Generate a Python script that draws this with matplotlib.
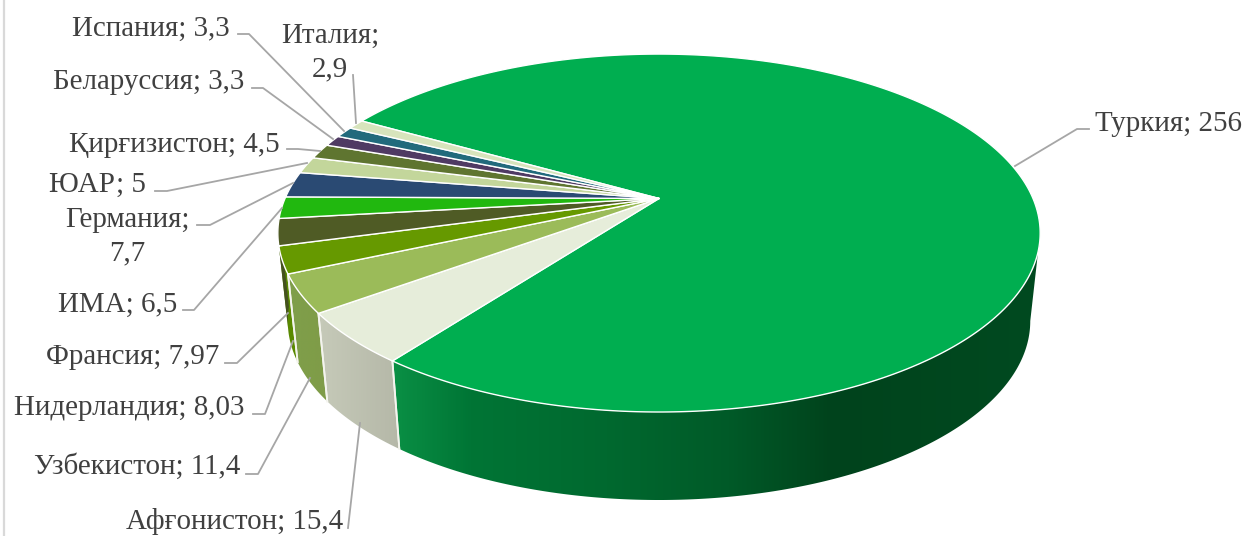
import numpy as np
import matplotlib
matplotlib.use("Agg")
import matplotlib.pyplot as plt
from matplotlib.colors import LinearSegmentedColormap
from matplotlib.patches import Polygon

# data, clockwise from the first slice
countries = ["Туркия", "Афғонистон", "Узбекистон", "Нидерландия", "Франсия", "ИМА",
             "Германия", "ЮАР", "Қирғизистон", "Беларуссия", "Испания", "Италия"]
values = [256, 15.4, 11.4, 8.03, 7.97, 6.5, 7.7, 5, 4.5, 3.3, 3.3, 2.9]
value_labels = ["256", "15,4", "11,4", "8,03", "7,97", "6,5", "7,7", "5", "4,5", "3,3", "3,3", "2,9"]

top_colors = ["#00ae50", "#e6edda", "#9bbb59", "#669900", "#4f5b25", "#21b80f",
              "#2a4a73", "#c3d69b", "#5f7530", "#4f3a63", "#216a7c", "#d7e4bc"]

# wall shading of the slices that face the viewer, left to right on screen
wall_ramps = {
    0: [(0.0, "#0a9045"), (0.12, "#007535"), (0.33, "#00692f"),
        (0.52, "#005a28"), (0.68, "#00431c"), (1.0, "#004a20")],
    1: [(0.0, "#c6cab9"), (1.0, "#b5b8a8")],
    2: [(0.0, "#7f9f4a"), (1.0, "#7f9c48")],
    3: [(0.0, "#5a8a00"), (1.0, "#5a8a00")],
    4: [(0.0, "#45511f"), (1.0, "#45511f")],
}

# perspective of the tilted disc, in pixels
cx, cy = 659, 198.5
a, b, k = 374, 172.3, 0.193
depth = 88
bottom_scale = 0.974
start_angle = 150.5


def rim(theta, lower=False):
    x = np.cos(theta)
    y = np.sin(theta)
    w = 1 + k * y
    sx = a * (bottom_scale if lower else 1)
    return cx + sx * x / w, cy - b * y / w + (depth if lower else 0)


fig = plt.figure(figsize=(12.48, 5.36), dpi=100)
ax = fig.add_axes([0, 0, 1, 1])

ax.plot([4, 4], [0, 536], color="#d9d9d9", lw=1.6, zorder=0)

angles = np.deg2rad(start_angle - np.cumsum([0] + values) / sum(values) * 360)

# the walls are visible only between the two points where the rim is widest
tangent = np.arcsin(k)
wall_lo = -np.pi + tangent - np.pi * 2
wall_hi = -tangent

for i, ramp in wall_ramps.items():
    t0 = np.clip(angles[i + 1], wall_lo, wall_hi)
    t1 = np.clip(angles[i], wall_lo, wall_hi)
    if i == 0:
        # the big slice runs clockwise through the right side
        t0, t1 = angles[1], wall_hi
    t = np.linspace(t0, t1, 300)
    xt, yt = rim(t)
    xb, yb = rim(t[::-1], True)
    px = np.r_[xt, xb]
    py = np.r_[yt, yb]
    cmap = LinearSegmentedColormap.from_list("wall%d" % i, ramp)
    img = ax.imshow(np.linspace(0, 1, 512)[None, :], cmap=cmap, aspect="auto",
                    extent=[px.min(), px.max(), py.max(), py.min()], zorder=2)
    img.set_clip_path(Polygon(np.c_[px, py], transform=ax.transData))
    for edge in (angles[i], angles[i + 1]):
        if np.sin(edge) < -0.3:
            x0, y0 = rim(edge)
            x1, y1 = rim(edge, True)
            ax.plot([x0, x1], [y0, y1], color="#f4f4ee", lw=1.3, zorder=3)

for i in range(len(values)):
    t = np.linspace(angles[i], angles[i + 1], 400)
    xs, ys = rim(t)
    ax.fill(np.r_[cx, xs], np.r_[cy, ys], facecolor=top_colors[i], edgecolor="white",
            lw=1.0, joinstyle="round", zorder=4)

# leader lines
leaders = {
    "Туркия": [(1015, 166), (1077, 129), (1089, 129)],
    "Афғонистон": [(348, 528), (360, 423)],
    "Узбекистон": [(246, 474), (258, 474), (310, 378)],
    "Нидерландия": [(253, 414), (265, 414), (293, 341)],
    "Франсия": [(225, 363), (237, 363), (288, 313)],
    "ИМА": [(183, 310), (194, 310), (282, 208)],
    "Германия": [(197, 225), (210, 225), (293, 183)],
    "ЮАР": [(155, 191), (167, 191), (307, 163)],
    "Қирғизистон": [(287, 149), (298, 149), (320, 151)],
    "Беларуссия": [(252, 88), (263, 88), (333, 139)],
    "Испания": [(238, 34), (249, 34), (344, 131)],
    "Италия": [(353, 75), (356, 123)],
}
for name, pts in leaders.items():
    px, py = zip(*pts)
    ax.plot(px, py, color="#a6a6a6", lw=1.3, zorder=5)

# label anchor: x, baseline y, horizontal alignment, wrapped or not
label_pos = {
    "Туркия": (1242, 131, "right", False),
    "Афғонистон": (343, 529, "right", False),
    "Узбекистон": (240, 474, "right", False),
    "Нидерландия": (244, 415, "right", False),
    "Франсия": (219, 364, "right", False),
    "ИМА": (177, 312, "right", False),
    "Германия": (127, 227, "center", True),
    "ЮАР": (146, 192, "right", False),
    "Қирғизистон": (280, 152, "right", False),
    "Беларуссия": (244, 89, "right", False),
    "Испания": (230, 36, "right", False),
    "Италия": (330, 43, "center", True),
}
font = dict(family="Liberation Serif", fontsize=20.9, color="#404040", zorder=6, va="baseline")
for name, val in zip(countries, value_labels):
    x, y, ha, wrapped = label_pos[name]
    if wrapped:
        ax.text(x, y, name + ";", ha=ha, **font)
        ax.text(x, y + 33, val, ha=ha, **font)
    else:
        ax.text(x, y, name + "; " + val, ha=ha, **font)

ax.set_xlim(0, 1248)
ax.set_ylim(536, 0)
ax.axis("off")

plt.savefig("out.png", dpi=100)
